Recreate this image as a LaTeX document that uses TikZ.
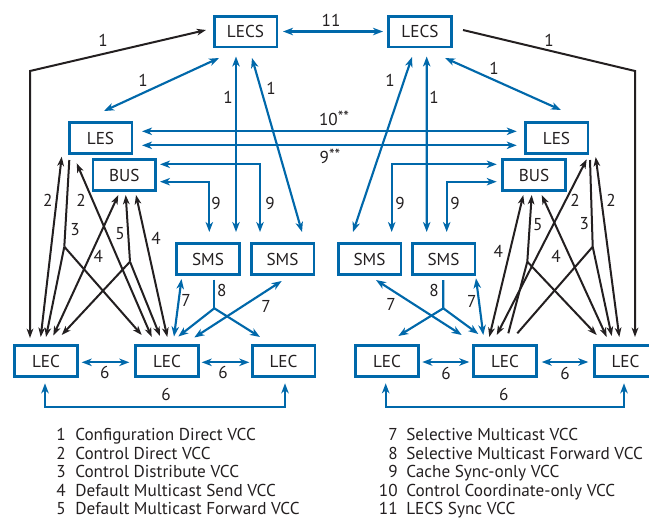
\documentclass[tikz,border=0pt]{standalone}
\usepackage{fontspec}
\setmainfont{PT Sans}
\usetikzlibrary{arrows.meta,calc}
\definecolor{lanblue}{RGB}{0,104,170}
\definecolor{ink}{RGB}{35,31,32}
\newcommand{\dblstar}{\raisebox{0.35ex}{\fontsize{12}{12}\selectfont**}}
\begin{document}
\begin{tikzpicture}[x=0.75pt,y=-0.75pt,
  font=\fontsize{12.9}{15}\selectfont,
  box/.style={draw=lanblue, line width=2pt, minimum width=47pt, minimum height=23pt, inner sep=0pt, text=ink},
  bl/.style={draw=lanblue, line width=1.6pt, >={Stealth[length=7.5pt,width=5.6pt,inset=2.2pt]}},
  bk/.style={draw=ink, line width=1.5pt, >={Stealth[length=7pt,width=5pt,inset=2pt]}},
  lab/.style={inner sep=0pt, text=ink},
  num/.style={inner sep=0pt, text=ink, anchor=base east},
  txt/.style={inner sep=0pt, text=ink, anchor=base west}]
\useasboundingbox (0,0) rectangle (649,519);

% ---- servers and clients ----
\node[box] (LECSa) at (245.5,31.5) {LECS};
\node[box] (LECSb) at (420,31.5) {LECS};
\node[box] (LESa) at (100.5,138) {LES};
\node[box] (LESb) at (556.5,138) {LES};
\node[box] (BUSa) at (124.3,175) {BUS};
\node[box] (BUSb) at (534,175) {BUS};
\node[box] (SMSa) at (208,259) {SMS};
\node[box] (SMSb) at (282.5,259) {SMS};
\node[box] (SMSc) at (369.5,259) {SMS};
\node[box] (SMSd) at (443.5,259) {SMS};
\node[box] (LECa) at (46,361) {LEC};
\node[box] (LECb) at (167,361) {LEC};
\node[box] (LECc) at (283.5,361) {LEC};
\node[box] (LECd) at (387,361) {LEC};
\node[box] (LECe) at (505,361) {LEC};
\node[box] (LECf) at (625.5,361) {LEC};

% ---- LECS sync and configuration VCCs ----
\draw[bl,<->] ($(LECSa)+(37.5,0)$) -- ($(LECSb)+(-37,0)$);
\node[lab] (n11) at (331,20) {11};
\draw[bl,<->] ($(LECSa)+(-26.5,26.5)$) -- ($(LESa)+(3.5,-27)$);
\node[lab] (n1b) at (143,80) {1};
\draw[bl,<->] ($(LECSa)+(-9.5,25)$) -- ($(SMSa)+(28,-27)$);
\node[lab] (n1c) at (228,97) {1};
\draw[bl,<->] ($(LECSa)+(6.5,26.5)$) -- ($(SMSb)+(19.5,-27)$);
\node[lab] (n1d) at (271,88) {1};
\draw[bl,<->] ($(LECSb)+(6.7,25)$) -- ($(SMSd)+(-16.8,-27)$);
\node[lab] (n1e) at (434,97) {1};
\draw[bl,<->] ($(LECSb)+(-8,25.5)$) -- ($(SMSc)+(-16.5,-27)$);
\node[lab] (n1f) at (390,80) {1};
\draw[bl,<->] ($(LECSb)+(25,26.5)$) -- ($(LESb)+(4.5,-28)$);
\node[lab] (n1g) at (494,68) {1};

% ---- LES to LES ----
\draw[bl,<->] ($(LESa)+(41.5,-6.7)$) -- ($(LESb)+(-39.8,-6.7)$);
\node[lab] (n10) at (334,118) {10\dblstar};
\draw[bl,<->] ($(LESa)+(41.5,7.3)$) -- ($(LESb)+(-39.8,7.3)$);
\node[lab] (n9s) at (330,156) {9\dblstar};

% ---- cache sync BUS to SMS ----
\draw[bl,<->] ($(BUSa)+(35.7,-10.7)$) -| ($(SMSb)+(-22.5,-27)$);
\node[lab] (n9b) at (270,203) {9};
\draw[bl,<->] ($(BUSa)+(35.7,6.7)$) -| ($(SMSa)+(1.3,-27)$);
\node[lab] (n9a) at (216,203) {9};
\draw[bl,<->] ($(BUSb)+(-37.3,-10.7)$) -| ($(SMSc)+(22.2,-27)$);
\node[lab] (n9c) at (400,203) {9};
\draw[bl,<->] ($(BUSb)+(-37.3,6.7)$) -| ($(SMSd)+(3.2,-27)$);
\node[lab] (n9d) at (455,203) {9};

% ---- selective multicast, left ----
\draw[bl,<->] ($(SMSa)+(-26.5,20)$) -- ($(LECb)+(7,-24.5)$);
\node[lab] (n7a) at (186,300) {7};
\coordinate (J8a) at (214.3,308.3);
\draw[bl] ($(SMSa)+(6.3,20.5)$) -- (J8a);
\draw[bl,->] (J8a) -- ($(LECb)+(11.3,-24.5)$);
\draw[bl,->] (J8a) -- ($(LECc)+(-23.5,-24)$);
\node[lab] (n8a) at (221.7,290) {8};
\draw[bl,<->] ($(SMSb)+(-0.8,22)$) -- ($(LECb)+(27.3,-23.5)$);
\node[lab] (n7b) at (266,306.7) {7};

% ---- selective multicast, right ----
\draw[bl,<->] ($(SMSc)+(6.5,21)$) -- ($(LECe)+(-43.3,-26)$);
\node[lab] (n7c) at (391,304) {7};
\coordinate (J8b) at (443.3,308.3);
\draw[bl] ($(SMSd)+(-0.2,21)$) -- (J8b);
\draw[bl,->] (J8b) -- ($(LECd)+(11.3,-25)$);
\draw[bl,->] (J8b) -- ($(LECe)+(-26.7,-27)$);
\node[lab] (n8b) at (434,290.7) {8};
\draw[bl,<->] ($(SMSd)+(32.5,19.3)$) -- ($(LECe)+(-21.7,-26)$);
\node[lab] (n7d) at (471.7,301.7) {7};

% ---- LEC to LEC data direct ----
\draw[bl,<->] ($(LECa)+(35.7,1.3)$) -- ($(LECb)+(-37.7,1.3)$);
\node[lab] (n6a) at (104.7,372.7) {6};
\draw[bl,<->] ($(LECb)+(34.7,1.3)$) -- ($(LECc)+(-34.2,1.3)$);
\node[lab] (n6b) at (223,372.7) {6};
\draw[bl,<->] ($(LECa)+(-1,22.3)$) -- ++(0,23.4) -| ($(LECc)+(1.5,22.3)$);
\node[lab] (n6c) at (166,394) {6};
\draw[bl,<->] ($(LECd)+(35.3,1)$) -- ($(LECe)+(-35.7,1)$);
\node[lab] (n6d) at (446,373) {6};
\draw[bl,<->] ($(LECe)+(36.7,1)$) -- ($(LECf)+(-37.2,1)$);
\node[lab] (n6e) at (565,373) {6};
\draw[bl,<->] ($(LECd)+(-1.3,22.3)$) -- ++(0,23.4) -| ($(LECf)+(-1.5,22.3)$);
\node[lab] (n6f) at (503.7,394) {6};

% ---- configuration direct to outer LECs ----
\coordinate (K1c) at (30,71);
\draw[bk,<->] ($(LECSa)+(-39.5,-1.5)$) -- (K1c) -- ($(LECa)+(-16,-23)$);
\node[lab] (n1a) at (103,40) {1};
\coordinate (K2c) at (635,71);
\draw[bk,->] ($(LECSb)+(43,-1.5)$) -- (K2c) -- ($(LECf)+(9.5,-24)$);
\node[lab] (n1h) at (549,40) {1};

% ---- left LES/BUS bundle ----
\draw[bk,<->] ($(LESa)+(-38.8,18.7)$) -- ($(LECa)+(-5.3,-24)$);
\node[lab] (n2a) at (47.7,200) {2};
\coordinate (J3a) at (64.3,246.7);
\draw[bk] ($(LESa)+(-31.2,22)$) -- (J3a);
\draw[bk,->] (J3a) -- ($(LECa)+(0,-24)$);
\draw[bk,->] (J3a) -- ($(LECb)+(-25.3,-26)$);
\node[lab] (n3a) at (75,230) {3};
\draw[bk,<->] ($(LESa)+(-23.8,25.3)$) -- ($(LECb)+(-15.3,-24)$);
\node[lab] (n2b) at (81,200) {2};
\draw[bk,<->] ($(BUSa)+(-6,20)$) -- ($(LECa)+(7.3,-25.5)$);
\node[lab] (n4a) at (98.3,256.7) {4};
\coordinate (J5a) at (130,261.7);
\draw[bk,<-] ($(BUSa)+(1.4,20)$) -- (J5a);
\draw[bk,->] (J5a) -- ($(LECa)+(15.7,-26)$);
\draw[bk,->] (J5a) -- ($(LECb)+(-7,-25)$);
\node[lab] (n5a) at (120,233.3) {5};
\draw[bk,<->] ($(BUSa)+(11.7,20)$) -- ($(LECb)+(0.3,-24)$);
\node[lab] (n4b) at (156,238.3) {4};

% ---- right LES/BUS bundle ----
\draw[bk,<->] ($(LESb)+(30.2,21.3)$) -- ($(LECe)+(-8.3,-26)$);
\node[lab] (n2c) at (575,200) {2};
\coordinate (J3b) at (592.7,246.7);
\draw[bk] ($(LESb)+(33.5,22)$) -- (J3b) -- ($(LECe)+(12.3,-27.7)$);
\draw[bk,->] (J3b) -- ($(LECf)+(-13.8,-25)$);
\node[lab] (n3b) at (584.3,224) {3};
\draw[bk,<->] ($(LESb)+(39.2,19)$) -- ($(LECf)+(-6.2,-24)$);
\node[lab] (n2d) at (611,200) {2};
\draw[bk,<->] ($(BUSb)+(-10.7,20)$) -- ($(LECe)+(-15.7,-24)$);
\node[lab] (n4c) at (498.3,251.7) {4};
\coordinate (J5b) at (527.3,261.7);
\draw[bk,<-] ($(BUSb)+(-2.3,20)$) -- (J5b) -- ($(LECe)+(3.3,-27.7)$);
\draw[bk,->] (J5b) -- ($(LECf)+(-28.8,-26)$);
\node[lab] (n5b) at (537.7,225) {5};
\draw[bk,<->] ($(BUSb)+(7.7,20)$) -- ($(LECf)+(-18.8,-24)$);
\node[lab] (n4d) at (556,256) {4};

% ---- legend ----
\node[num] (k1) at (66,440.5) {1};   \node[txt] (t1) at (75,440.5) {Configuration Direct VCC};
\node[num] (k2) at (66,459) {2};     \node[txt] (t2) at (75,459) {Control Direct VCC};
\node[num] (k3) at (66,477.5) {3};   \node[txt] (t3) at (75,477.5) {Control Distribute VCC};
\node[num] (k4) at (66,496) {4};     \node[txt] (t4) at (75,496) {Default Multicast Send VCC};
\node[num] (k5) at (66,514.5) {5};   \node[txt] (t5) at (75,514.5) {Default Multicast Forward VCC};
\node[num] (k7) at (398,440.5) {7};  \node[txt] (t7) at (406,440.5) {Selective Multicast VCC};
\node[num] (k8) at (398,459) {8};    \node[txt] (t8) at (406,459) {Selective Multicast Forward VCC};
\node[num] (k9) at (398,477.5) {9};  \node[txt] (t9) at (406,477.5) {Cache Sync-only VCC};
\node[num] (k10) at (398,496) {10};  \node[txt] (t10) at (406,496) {Control Coordinate-only VCC};
\node[num] (k11) at (398,514.5) {11};\node[txt] (t11) at (406,514.5) {LECS Sync VCC};
\end{tikzpicture}
\end{document}
